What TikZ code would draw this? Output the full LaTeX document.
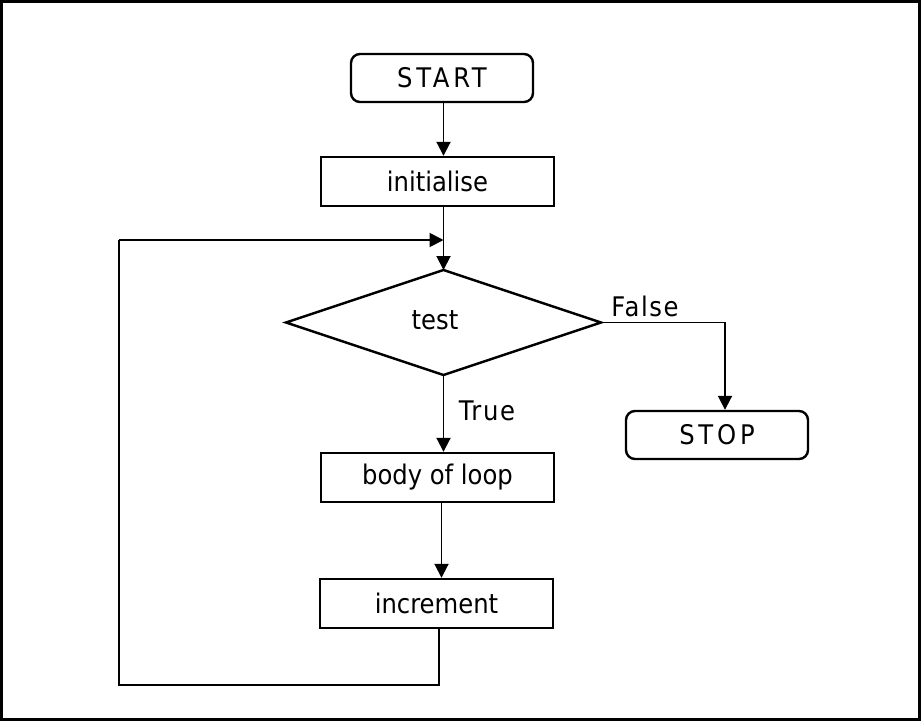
\documentclass[tikz,border=0pt]{standalone}
\usepackage{fontspec}
\setmainfont{DejaVu Sans Condensed}
\usetikzlibrary{shapes.geometric,arrows.meta}
\tikzset{
  txt/.style={font=\fontsize{27}{31}\selectfont},
  box/.style={draw,line width=2.4pt,minimum width=233pt,minimum height=49pt,inner sep=0pt,txt},
  term/.style={draw,line width=2.4pt,rounded corners=9pt,minimum width=182pt,minimum height=48pt,inner sep=0pt,font=\fontsize{27}{31}\selectfont\addfontfeature{LetterSpace=14}},
  lab/.style={font=\fontsize{27}{31}\selectfont\addfontfeature{LetterSpace=6},inner sep=0pt},
  conn/.style={line width=1.9pt},
  arr/.style={conn,-{Triangle[length=14pt,width=14pt]}}
}
\begin{document}
\begin{tikzpicture}[x=1pt,y=-1pt]
\useasboundingbox (0,0) rectangle (921,721);
\draw[line width=2.4pt] (1.5,1.5) rectangle (919.5,719.5);
\node[term] (start) at (442,78) {START};
\node[box] (init) at (437.5,181.5) {initialise};
\coordinate (tl) at (286,322.5);
\coordinate (tr) at (601,322.5);
\coordinate (tt) at (443.5,270);
\coordinate (tb) at (443.5,375);
\draw[line width=2.4pt] (tl) -- (tt) -- (tr) -- (tb) -- cycle;
\node[txt,inner sep=0pt] (test) at (435,320) {test};
\node[term] (stop) at (717,435) {STOP};
\node[box] (body) at (437.5,477.5) {body of loop};
\node[box] (inc) at (436.5,603.5) {increment};
\coordinate (join) at (443.5,240);
\coordinate (fc) at (725,322.5);
\coordinate (bl) at (119,685);
\coordinate (tlc) at (119,240);
\coordinate (bb) at (439,685);
\node[lab] (false) at (645,306) {False};
\node[lab] (true) at (487,411) {True};
\draw[arr] (start.south -| tt) -- (init.north -| tt);
\draw[arr] (init.south -| tt) -- (tt);
\draw[arr] (tb) -- (body.north -| tb);
\draw[arr] (body.south -| 441.5,0) -- (inc.north -| 441.5,0);
\draw[arr] (tr) -- (fc) -- (stop.north -| fc);
\draw[conn] (inc.south -| bb) -- (bb) -- (bl) -- (tlc);
\draw[arr] (tlc) -- (join);
\end{tikzpicture}
\end{document}
